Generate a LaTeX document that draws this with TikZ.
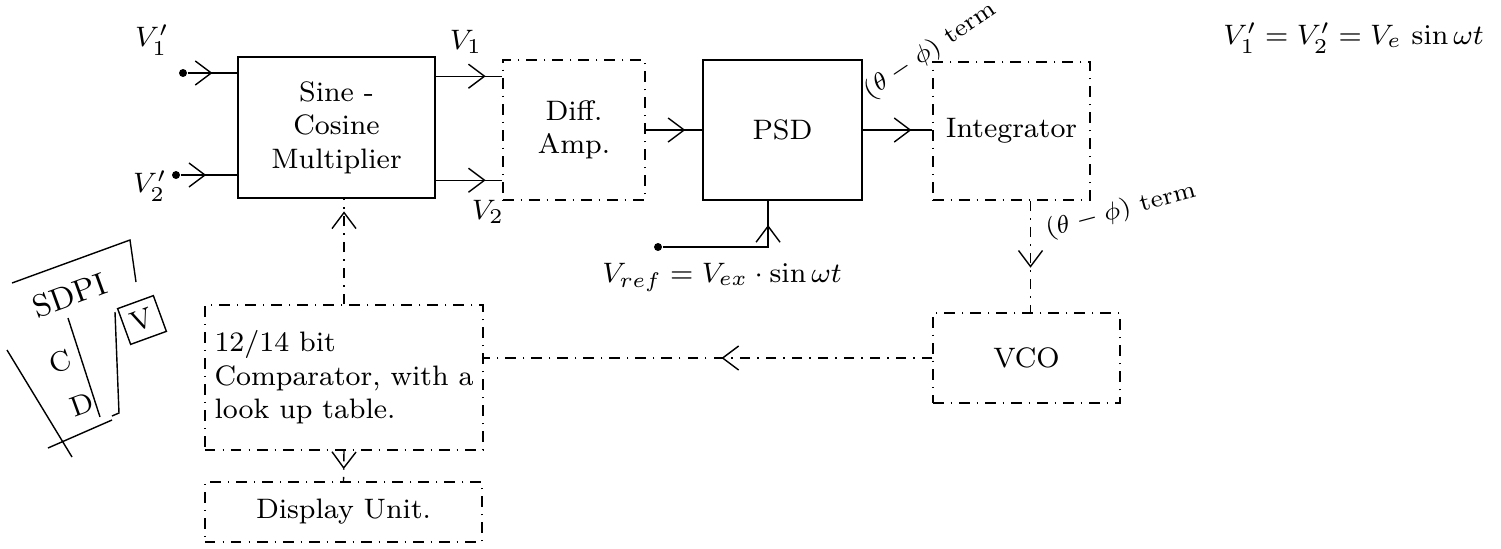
\documentclass[tikz,border=0pt]{standalone}
\usepackage{amsmath}
\usepackage{tikz}
\usetikzlibrary{arrows.meta, positioning, calc, decorations.markings}

\begin{document}
\begin{tikzpicture}[
    x=0.01cm, y=-0.01cm,
    blk/.style={rectangle, draw, thin, align=center, font=\footnotesize, inner sep=2pt},
    dblk/.style={blk, dash dot},
    lbl/.style={font=\footnotesize, inner sep=1pt},
    sig/.style={thin, postaction={decorate}, decoration={markings, mark=at position #1 with {\arrow{Straight Barb[length=1.6mm, width=2.4mm]}}}},
    sig/.default=0.6,
    dsig/.style={sig=#1, dash dot},
    tdot/.style={circle, fill, inner sep=0.8pt}
]
\useasboundingbox (0,0) rectangle (1501,548);
% blocks
\node[blk, minimum width=1.97cm, minimum height=1.41cm] (scm) at (336.5,127.5) {Sine -\\Cosine\\Multiplier};
\node[dblk, minimum width=1.42cm, minimum height=1.40cm] (amp) at (574,130) {Diff.\\Amp.};
\node[blk, minimum width=1.59cm, minimum height=1.40cm] (psd) at (782.5,130) {PSD};
\node[dblk, minimum width=1.57cm, minimum height=1.38cm] (intg) at (1011.5,131) {Integrator};
\node[dblk, minimum width=1.87cm, minimum height=0.90cm] (vco) at (1026.5,358) {VCO};
\node[dblk, minimum width=2.78cm, minimum height=1.45cm, align=left] (cmp) at (344,377.5) {12/14 bit\\Comparator, with a\\look up table.};
\node[dblk, minimum width=2.77cm, minimum height=0.60cm] (disp) at (343.5,512) {Display Unit.};
% inputs and labels
\node[tdot] (in1) at (183,73) {};
\node[tdot] (in2) at (176,175) {};
\node[tdot] (vref) at (658,247) {};
\node[lbl] (lin1) at (152,40) {$V_1'$};
\node[lbl] (lin2) at (150,186) {$V_2'$};
\node[lbl] (lo1) at (466,42) {$V_1$};
\node[lbl] (lo2) at (488,212) {$V_2$};
\node[lbl] (lref) at (722,277) {$V_{ref}=V_{ex}\cdot\sin\omega t$};
\node[lbl, anchor=east] (leq) at (1488,38) {$V_1'=V_2'=V_e\,\sin\omega t$};
\node[lbl, font=\scriptsize, rotate=34, anchor=south west] (lpsd) at (872,110) {$(\theta-\phi)$ term};
\node[lbl, font=\scriptsize, rotate=15, anchor=west] (lint) at (1042,232) {$(\theta-\phi)$ term};
% connectors
\draw[sig=0.5] (in1) -- (in1 -| scm.west);
\draw[sig=0.45] (in2) -- (in2 -| scm.west);
\draw[sig=0.75] ($(scm.north east)!0.14!(scm.south east)$) coordinate (o1) -- (o1 -| amp.west);
\draw[sig=0.75] ($(scm.north east)!0.87!(scm.south east)$) coordinate (o2) -- (o2 -| amp.west);
\draw[sig=0.7] (amp.east) -- (amp.east -| psd.west);
\draw[sig=0.7] (psd.east) -- (psd.east -| intg.west);
\draw[sig=0.84] (vref) -| ($(psd.south west)!0.41!(psd.south east)$);
\draw[dsig=0.6] ($(intg.south west)!0.62!(intg.south east)$) coordinate (i1) -- (i1 |- vco.north);
\draw[dsig=0.47] (vco.west) -- (vco.west -| cmp.east);
\draw[dsig=0.88] (cmp.north) -- (cmp.north |- scm.south);
\draw[dsig=0.6] (cmp.south) -- (disp.north);
% margin note
\node[lbl, rotate=20] (sdpi) at (70,295) {\small SDPI};
\node[lbl, draw, rotate=20, minimum size=0.38cm] (nv) at (142,320) {V};
\node[lbl, rotate=20] (nc) at (60,362) {C};
\node[lbl, rotate=20] (nd) at (82,405) {D};
\draw (12,283) -- (130,240) -- (136,282);
\draw (7,350) -- (72,457);
\draw (68,318) -- (100,417);
\draw (115,312) -- (119,413) -- (112,416);
\draw (48,448) -- (112,420);
\end{tikzpicture}
\end{document}
